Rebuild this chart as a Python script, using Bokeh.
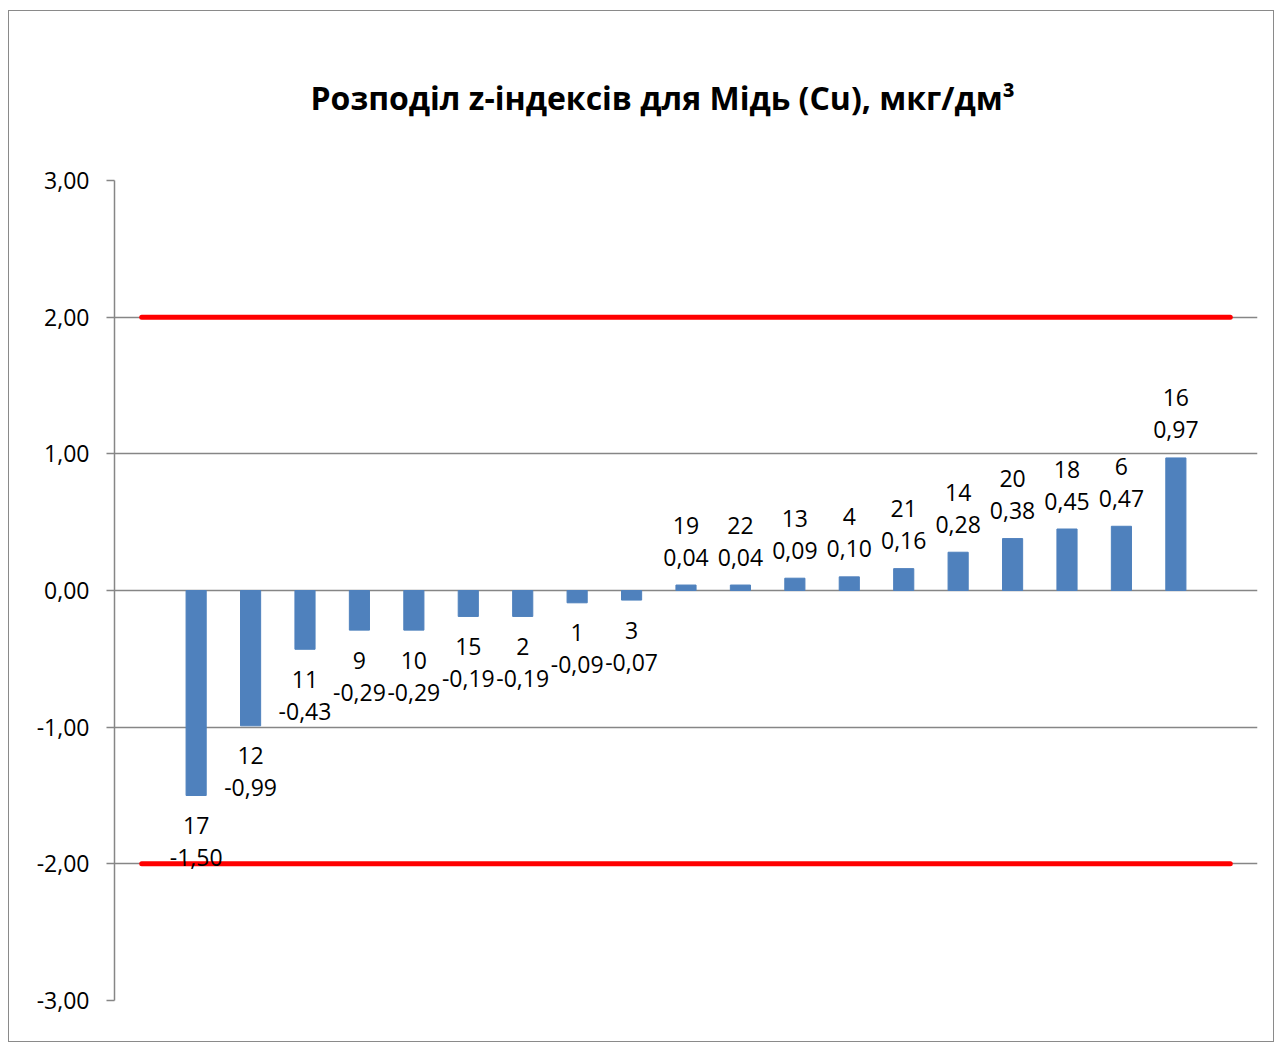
import numpy as np
from bokeh.plotting import figure
from bokeh.models import Range1d, ColumnDataSource, Title, CustomJSTickFormatter, FixedTicker
from bokeh.core.properties import value
from bokeh.embed import file_html
from bokeh.resources import INLINE

title_text = "Розподіл z-індексів для  Мідь (Cu), мкг/дм³"
lab_ids = ["17", "12", "11", "9", "10", "15", "2", "1", "3", "19", "22", "13", "4", "21", "14", "20", "18", "6", "16"]
z_scores = [-1.50, -0.99, -0.43, -0.29, -0.29, -0.19, -0.19, -0.09, -0.07, 0.04, 0.04, 0.09, 0.10, 0.16, 0.28, 0.38, 0.45, 0.47, 0.97]
limit_upper = 2.0
limit_lower = -2.0
y_ticks = [-3, -2, -1, 0, 1, 2, 3]

FONT = "Open Sans"
n = len(lab_ids)
xpos = np.arange(1, n + 1)
zs = np.array(z_scores)
fmt = [f"{v:.2f}".replace(".", ",") for v in z_scores]
pos = zs >= 0
id_off = np.where(pos, -60, 30)
val_off = np.where(pos, -28, 62)

src = ColumnDataSource(dict(x=xpos, z=zs, ids=lab_ids, vals=fmt, id_off=id_off, val_off=val_off))

p = figure(width=1266, height=1032, output_backend="svg", toolbar_location=None,
           x_range=Range1d(-0.5, n + 1.5), y_range=Range1d(-3, 3),
           min_border_left=105, min_border_right=18, min_border_top=169, min_border_bottom=43)
p.styles = {"border": "1.5px solid #8a8a8a", "margin-top": "10px", "margin-left": "8px"}
p.outline_line_color = None
p.background_fill_color = "white"
p.border_fill_color = "white"

p.title = Title(text=title_text, align="left", text_font=FONT, text_font_size="32px",
                text_font_style="bold", text_color="black", standoff=124, offset=196)

p.xaxis.visible = False
p.xgrid.visible = False
p.ygrid.ticker = FixedTicker(ticks=y_ticks)
p.ygrid.grid_line_color = "#868686"
p.ygrid.grid_line_width = 1.5

ax = p.yaxis[0]
ax.ticker = FixedTicker(ticks=y_ticks)
ax.formatter = CustomJSTickFormatter(code="return tick.toFixed(2).replace('.', ',');")
ax.axis_line_color = "#868686"
ax.axis_line_width = 1.5
ax.major_tick_line_color = "#868686"
ax.major_tick_line_width = 1.5
ax.major_tick_out = 8
ax.major_tick_in = 0
ax.minor_tick_line_color = None
ax.major_label_text_font = FONT
ax.major_label_text_font_size = "23px"
ax.major_label_text_color = "black"
ax.major_label_standoff = 17

p.vbar(x="x", top="z", bottom=0, width=0.37, source=src, fill_color="#4f81bd", line_color="#4f81bd")

p.line([0, n + 1], [limit_upper, limit_upper], line_color="#ff0000", line_width=5, line_cap="round")
p.line([0, n + 1], [limit_lower, limit_lower], line_color="#ff0000", line_width=5, line_cap="round")

p.text(x="x", y="z", text="ids", y_offset="id_off", source=src, text_font=value(FONT),
       text_font_size="23px", text_align="center", text_baseline="middle", text_color="black")
p.text(x="x", y="z", text="vals", y_offset="val_off", source=src, text_font=value(FONT),
       text_font_size="23px", text_align="center", text_baseline="middle", text_color="black")

open("out.html", "w").write(file_html(p, INLINE))
